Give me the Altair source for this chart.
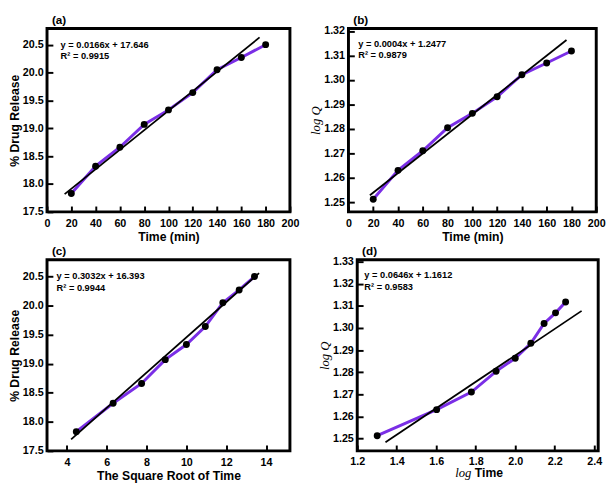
import altair as alt
import pandas as pd

# ---- data ----
time_min = [20, 40, 60, 80, 100, 120, 140, 160, 180]
drug_release = [17.83, 18.32, 18.66, 19.07, 19.33, 19.64, 20.05, 20.27, 20.50]
log_q = [1.2512, 1.2630, 1.2710, 1.2804, 1.2863, 1.2931, 1.3021, 1.3069, 1.3118]
sqrt_time = [4.47, 6.32, 7.75, 8.94, 10.00, 10.95, 11.83, 12.65, 13.42]
log_time = [1.301, 1.602, 1.778, 1.903, 2.000, 2.079, 2.146, 2.204, 2.255]

# fitted (trend) line end points
fit_a_x = [14.5, 175.0]
fit_a_y = [17.82, 20.63]
fit_b_x = [17.3, 176.0]
fit_b_y = [1.2528, 1.3163]
fit_c_x = [4.21, 13.65]
fit_c_y = [17.70, 20.56]
fit_d_x = [1.343, 2.336]
fit_d_y = [1.2482, 1.3078]

eq_text = ["y = 0.0166x + 17.646", "y = 0.0004x + 1.2477",
           "y = 0.3032x + 16.393", "y = 0.0646x + 1.1612"]
r2_text = ["R² = 0.9915", "R² = 0.9879", "R² = 0.9944", "R² = 0.9583"]
panel_labels = ["(a)", "(b)", "(c)", "(d)"]

x_ticks_time = [0, 20, 40, 60, 80, 100, 120, 140, 160, 180, 200]
x_ticks_sqrt = [4, 6, 8, 10, 12, 14]
x_ticks_log = [1.2, 1.4, 1.6, 1.8, 2.0, 2.2, 2.4]
y_ticks_rel = [17.5, 18.0, 18.5, 19.0, 19.5, 20.0, 20.5]
y_ticks_logq_b = [1.25, 1.26, 1.27, 1.28, 1.29, 1.30, 1.31, 1.32]
y_ticks_logq_d = [1.25, 1.26, 1.27, 1.28, 1.29, 1.30, 1.31, 1.32, 1.33]

PURPLE = "#7a2ee6"
SANS = "Liberation Sans"
SERIF = "Liberation Serif"
TICK = 6


def make_axis(values, fmt, title, serif_title=False, label_pad=4, title_pad=1):
    kw = dict(
        values=values, format=fmt, offset=-TICK, tickSize=TICK, tickWidth=2,
        tickColor="black", domain=False, grid=False,
        labelFont=SANS, labelFontSize=11, labelFontWeight="bold",
        labelColor="black", labelPadding=label_pad, labelFlush=False,
        labelOverlap=False, titleColor="black", titlePadding=title_pad,
    )
    if title is None:
        kw["title"] = None
    else:
        kw["title"] = title
        if serif_title:
            kw.update(titleFont=SERIF, titleFontStyle="italic",
                      titleFontWeight="normal", titleFontSize=13)
        else:
            kw.update(titleFont=SANS, titleFontWeight="bold", titleFontSize=12.5)
    return alt.Axis(**kw)


def panel(xs, ys, fx, fy, xdom, ydom, xaxis, yaxis, label, eq, r2,
          ann_x, ann_y1, ann_y2, w, h, extra=None):
    df = pd.DataFrame({"x": xs, "y": ys})
    fit = pd.DataFrame({"x": fx, "y": fy})
    ann = pd.DataFrame({"x": [ann_x, ann_x], "y": [ann_y1, ann_y2], "t": [eq, r2]})
    one = pd.DataFrame({"t": [label]})
    X = alt.X("x:Q", scale=alt.Scale(domain=xdom, nice=False, zero=False), axis=xaxis)
    Y = alt.Y("y:Q", scale=alt.Scale(domain=ydom, nice=False, zero=False), axis=yaxis)
    line = alt.Chart(df).mark_line(color=PURPLE, strokeWidth=3).encode(x=X, y=Y)
    trend = alt.Chart(fit).mark_line(color="black", strokeWidth=1.8).encode(x=X, y=Y)
    pts = alt.Chart(df).mark_circle(color="black", size=50, opacity=1).encode(x=X, y=Y)
    txt = alt.Chart(ann).mark_text(font=SANS, fontSize=9.5, fontWeight="bold",
                                   align="left", baseline="middle", color="black").encode(
        x=X, y=Y, text="t:N")
    frame = alt.Chart(one).mark_rect(fillOpacity=0, stroke="black", strokeWidth=3).encode(
        x=alt.value(0), x2=alt.value(w), y=alt.value(0), y2=alt.value(h))
    tag = alt.Chart(one).mark_text(font=SANS, fontSize=12, fontWeight="bold",
                                   align="left", baseline="bottom", color="black").encode(
        x=alt.value(5), y=alt.value(-2), text="t:N")
    layers = [line, trend, pts, txt, frame, tag]
    if extra:
        layers += extra
    return alt.layer(*layers).properties(width=w, height=h)


H_TOP = 188
H_BOT = 196

pa = panel(time_min, drug_release, fit_a_x, fit_a_y, [0, 200], [17.5, 20.79],
           make_axis(x_ticks_time, "d", "Time (min)", label_pad=6, title_pad=2),
           make_axis(y_ticks_rel, ".1f", "% Drug Release"),
           panel_labels[0], eq_text[0], r2_text[0], 11.2, 20.49, 20.30, 249, H_TOP)

pb = panel(time_min, log_q, fit_b_x, fit_b_y, [0, 200], [1.246, 1.321],
           make_axis(x_ticks_time, "d", "Time (min)", label_pad=6, title_pad=2),
           make_axis(y_ticks_logq_b, ".2f", "log Q", serif_title=True),
           panel_labels[1], eq_text[1], r2_text[1], 7.9, 1.3148, 1.3103, 254, H_TOP)

pc = panel(sqrt_time, drug_release, fit_c_x, fit_c_y, [3, 15.2], [17.5, 20.79],
           make_axis(x_ticks_sqrt, "d", "The Square Root of Time", label_pad=6, title_pad=2),
           make_axis(y_ticks_rel, ".1f", "% Drug Release"),
           panel_labels[2], eq_text[2], r2_text[2], 3.48, 20.50, 20.30, 249, H_BOT)

title_df = pd.DataFrame({"a": ["log"], "b": ["Time"]})
log_part = alt.Chart(title_df).mark_text(
    font=SERIF, fontStyle="italic", fontSize=13, align="right",
    baseline="alphabetic", color="black").encode(
    x=alt.value(117), y=alt.value(H_BOT + 27), text="a:N")
time_part = alt.Chart(title_df).mark_text(
    font=SANS, fontWeight="bold", fontSize=12.5, align="left",
    baseline="alphabetic", color="black").encode(
    x=alt.value(120.5), y=alt.value(H_BOT + 27), text="b:N")

pd_ = panel(log_time, log_q, fit_d_x, fit_d_y, [1.2, 2.42], [1.2443, 1.331],
            make_axis(x_ticks_log, ".1f", None, label_pad=5),
            make_axis(y_ticks_logq_d, ".2f", "log Q", serif_title=True),
            panel_labels[3], eq_text[3], r2_text[3], 1.236, 1.3239, 1.3186, 247, H_BOT,
            extra=[log_part, time_part])

top = alt.hconcat(pa, pb, spacing=10)
bottom = alt.hconcat(pc, pd_, spacing=27)
chart = alt.vconcat(top, bottom, spacing=2).properties(
    padding={"left": 0, "top": 0, "right": 0, "bottom": 0}, background="white"
).configure_view(strokeWidth=0)

chart.save("out.html", embed_options={"renderer": "svg", "actions": False})
